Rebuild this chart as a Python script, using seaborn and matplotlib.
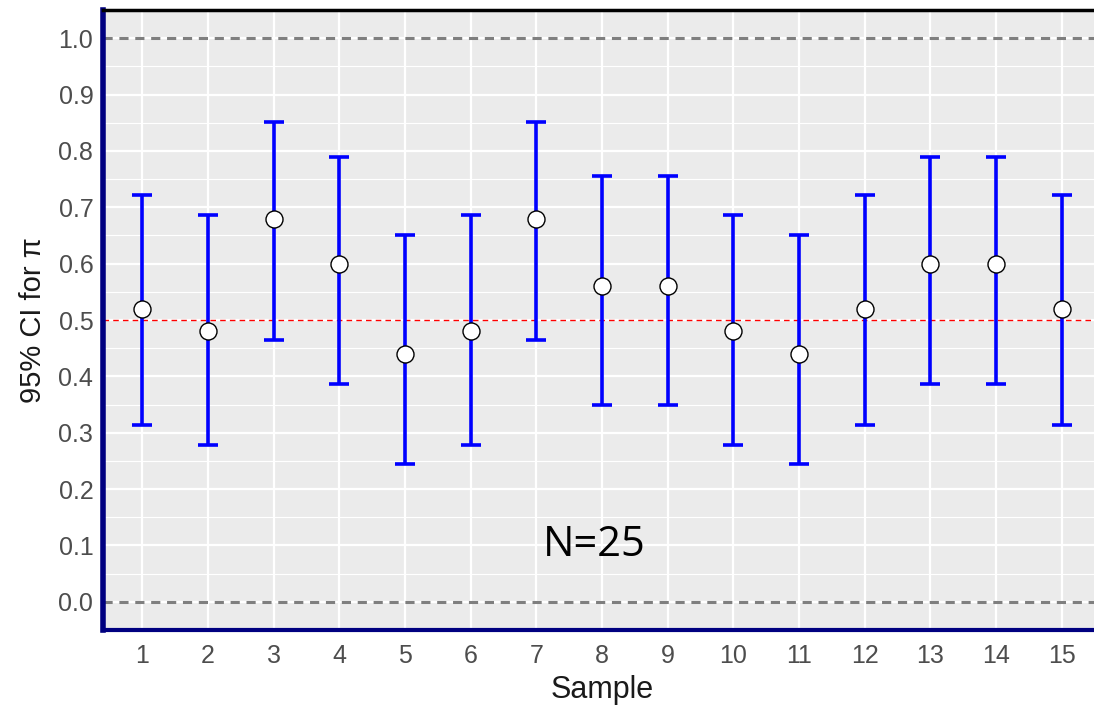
import numpy as np
import pandas as pd
import matplotlib
matplotlib.use("Agg")
import matplotlib.pyplot as plt
import seaborn as sns

samples = list(range(1, 16))
p_hat = [0.52, 0.48, 0.68, 0.60, 0.44, 0.48, 0.68, 0.56, 0.56, 0.48, 0.44, 0.52, 0.60, 0.60, 0.52]
lower = [0.313, 0.278, 0.465, 0.387, 0.244, 0.278, 0.465, 0.349, 0.349, 0.278, 0.244, 0.313, 0.387, 0.387, 0.313]
upper = [0.722, 0.687, 0.851, 0.789, 0.651, 0.687, 0.851, 0.756, 0.756, 0.687, 0.651, 0.722, 0.789, 0.789, 0.722]
y_ticks = [0.0, 0.1, 0.2, 0.3, 0.4, 0.5, 0.6, 0.7, 0.8, 0.9, 1.0]

df = pd.DataFrame({"Sample": samples, "p": p_hat, "lo": lower, "hi": upper})

sns.set_theme(style="darkgrid")
plt.rcParams["font.family"] = ["Liberation Sans", "DejaVu Sans"]

fig = plt.figure(figsize=(10.94, 7.08), dpi=100)
ax = fig.add_axes([103 / 1094, 78 / 708, (1101 - 103) / 1094, 620 / 708])
ax.set_facecolor("#EBEBEB")

ax.set_xlim(0.4, 15.6)
ax.set_ylim(-0.05, 1.05)
ax.set_xticks(samples)
ax.set_xticklabels([str(s) for s in samples])
ax.set_yticks(y_ticks)
ax.set_yticklabels([f"{v:.1f}" for v in y_ticks])
ax.set_yticks(np.arange(-0.05, 1.06, 0.1), minor=True)
ax.grid(which="major", color="white", linewidth=1.6)
ax.grid(which="minor", axis="y", color="white", linewidth=0.8)
ax.set_axisbelow(True)

ax.axhline(1.0, color="#7F7F7F", linestyle=(0, (3, 2.2)), linewidth=2.2, zorder=1.5)
ax.axhline(0.0, color="#7F7F7F", linestyle=(0, (3, 2.2)), linewidth=2.2, zorder=1.5)
ax.axhline(0.5, color="#FF0000", linestyle=(0, (4, 3)), linewidth=1.0, zorder=1.5)

ax.errorbar(df["Sample"], df["p"],
            yerr=[df["p"] - df["lo"], df["hi"] - df["p"]],
            fmt="none", ecolor="#0000FF", elinewidth=2.6, capsize=7, capthick=2.6, zorder=2)
sns.scatterplot(data=df, x="Sample", y="p", ax=ax, s=150, color="white",
                edgecolor="black", linewidth=1.0, zorder=3, legend=False)

fig.text(594 / 1094, 1 - 545 / 708, "N=25", fontsize=30, family=["Open Sans", "DejaVu Sans"],
         color="black", ha="center", va="center")

ax.set_xlabel("Sample", fontsize=22, color="#1A1A1A", labelpad=5)
ax.set_ylabel("95% CI for π", fontsize=21, color="#1A1A1A", labelpad=8)
ax.tick_params(axis="both", which="major", labelsize=18, colors="#4D4D4D",
               length=4, width=1, direction="out")
ax.tick_params(axis="x", which="major", pad=6)
ax.tick_params(axis="y", which="major", pad=3)
ax.tick_params(axis="y", which="minor", length=0)

for side in ["left", "bottom", "top", "right"]:
    ax.spines[side].set_visible(True)
ax.spines["left"].set_color("#000080")
ax.spines["left"].set_linewidth(4)
ax.spines["bottom"].set_color("#000080")
ax.spines["bottom"].set_linewidth(3)
ax.spines["top"].set_color("black")
ax.spines["top"].set_linewidth(2.5)
ax.spines["right"].set_visible(False)

fig.savefig("out.png", dpi=100)
